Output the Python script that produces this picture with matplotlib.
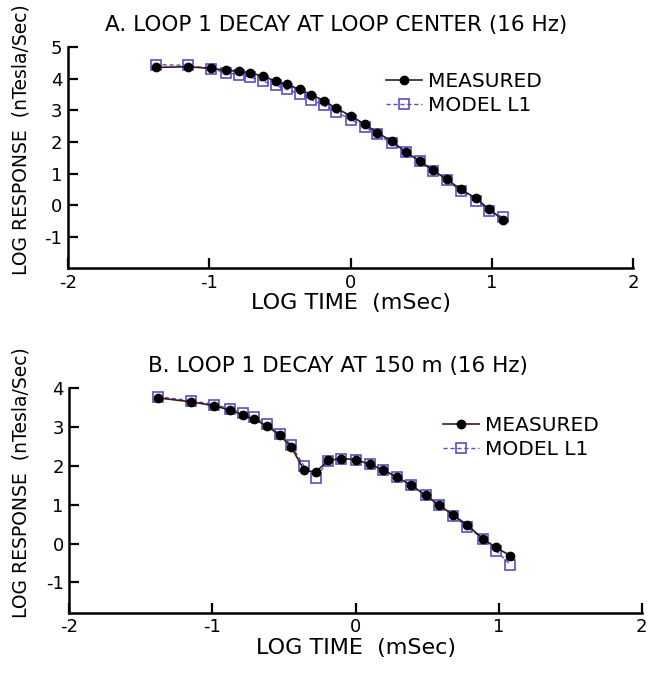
import matplotlib
matplotlib.use("Agg")
import matplotlib.pyplot as plt

plt.rcParams['font.family'] = ['DejaVu Sans']
plt.rcParams['axes.unicode_minus'] = False

# log time (mSec), same gates for both panels
log_time = [-1.38, -1.15, -0.99, -0.88, -0.79, -0.71, -0.62, -0.53, -0.45, -0.36,
            -0.28, -0.19, -0.10, 0.00, 0.10, 0.19, 0.29, 0.39, 0.49, 0.58,
            0.68, 0.78, 0.89, 0.98, 1.08]

# panel A: loop center
a_measured = [4.36, 4.38, 4.33, 4.27, 4.23, 4.19, 4.08, 3.93, 3.82, 3.66,
              3.50, 3.31, 3.06, 2.83, 2.56, 2.29, 2.03, 1.68, 1.40, 1.11,
              0.82, 0.50, 0.21, -0.13, -0.47]
a_model = [4.45, 4.42, 4.32, 4.19, 4.13, 4.05, 3.92, 3.79, 3.66, 3.52,
           3.34, 3.16, 2.94, 2.71, 2.48, 2.24, 1.96, 1.68, 1.40, 1.08,
           0.80, 0.45, 0.14, -0.18, -0.39]

# panel B: 150 m
b_measured = [3.75, 3.65, 3.55, 3.44, 3.32, 3.20, 3.03, 2.79, 2.49, 1.89,
              1.84, 2.14, 2.19, 2.16, 2.04, 1.90, 1.71, 1.50, 1.24, 1.00,
              0.74, 0.48, 0.12, -0.10, -0.31]
b_model = [3.78, 3.68, 3.58, 3.47, 3.37, 3.25, 3.08, 2.83, 2.54, 1.99,
           1.70, 2.12, 2.19, 2.16, 2.04, 1.90, 1.71, 1.50, 1.24, 1.00,
           0.72, 0.42, 0.12, -0.18, -0.54]

titles = ["A. LOOP 1 DECAY AT LOOP CENTER (16 Hz)", "B. LOOP 1 DECAY AT 150 m (16 Hz)"]
xticks = [-2, -1, 0, 1, 2]

fig = plt.figure(figsize=(6.48, 6.74), dpi=100)
ax_a = fig.add_axes([0.105, 0.602, 0.872, 0.328])
ax_b = fig.add_axes([0.107, 0.091, 0.8835, 0.333])

panels = [
    (ax_a, a_measured, a_model, (-2, 5), [-1, 0, 1, 2, 3, 4, 5], titles[0], (0.545, 0.935), 0.475),
    (ax_b, b_measured, b_model, (-1.78, 4), [-1, 0, 1, 2, 3, 4], titles[1], (0.635, 0.92), 0.47),
]

for ax, meas, mod, ylim, yticks, title, leg_anchor, tx in panels:
    ax.plot(log_time, meas, color='#3d1a10', lw=1.2, marker='o', ms=6,
            mfc='black', mec='black', label='MEASURED', zorder=3)
    ax.plot(log_time, mod, color='#5a4fc0', lw=1.0, ls=(0, (3, 2)), marker='s', ms=7.5,
            mfc='none', mec='#5a4fc0', mew=1.2, label='MODEL L1', zorder=2)
    ax.set_xlim(-2, 2)
    ax.set_ylim(*ylim)
    ax.set_xticks(xticks)
    ax.set_yticks(yticks)
    ax.spines['top'].set_visible(False)
    ax.spines['right'].set_visible(False)
    for s in ['left', 'bottom']:
        ax.spines[s].set_linewidth(1.8)
    ax.tick_params(direction='in', length=7, width=1.6, labelsize=13, pad=4)
    ax.set_xlabel('LOG TIME  (mSec)', fontsize=16, labelpad=1)
    ax.set_ylabel('LOG RESPONSE  (nTesla/Sec)', fontsize=13.5)
    ax.yaxis.set_label_coords(-0.067, 0.58)
    ax.text(tx, 1.1, title, transform=ax.transAxes, ha='center', va='center', fontsize=15.5)
    ax.legend(loc='upper left', bbox_to_anchor=leg_anchor, frameon=False, fontsize=14.5,
              handlelength=1.8, handletextpad=0.3, labelspacing=0.25, borderpad=0)

fig.savefig('out.png', dpi=100)
